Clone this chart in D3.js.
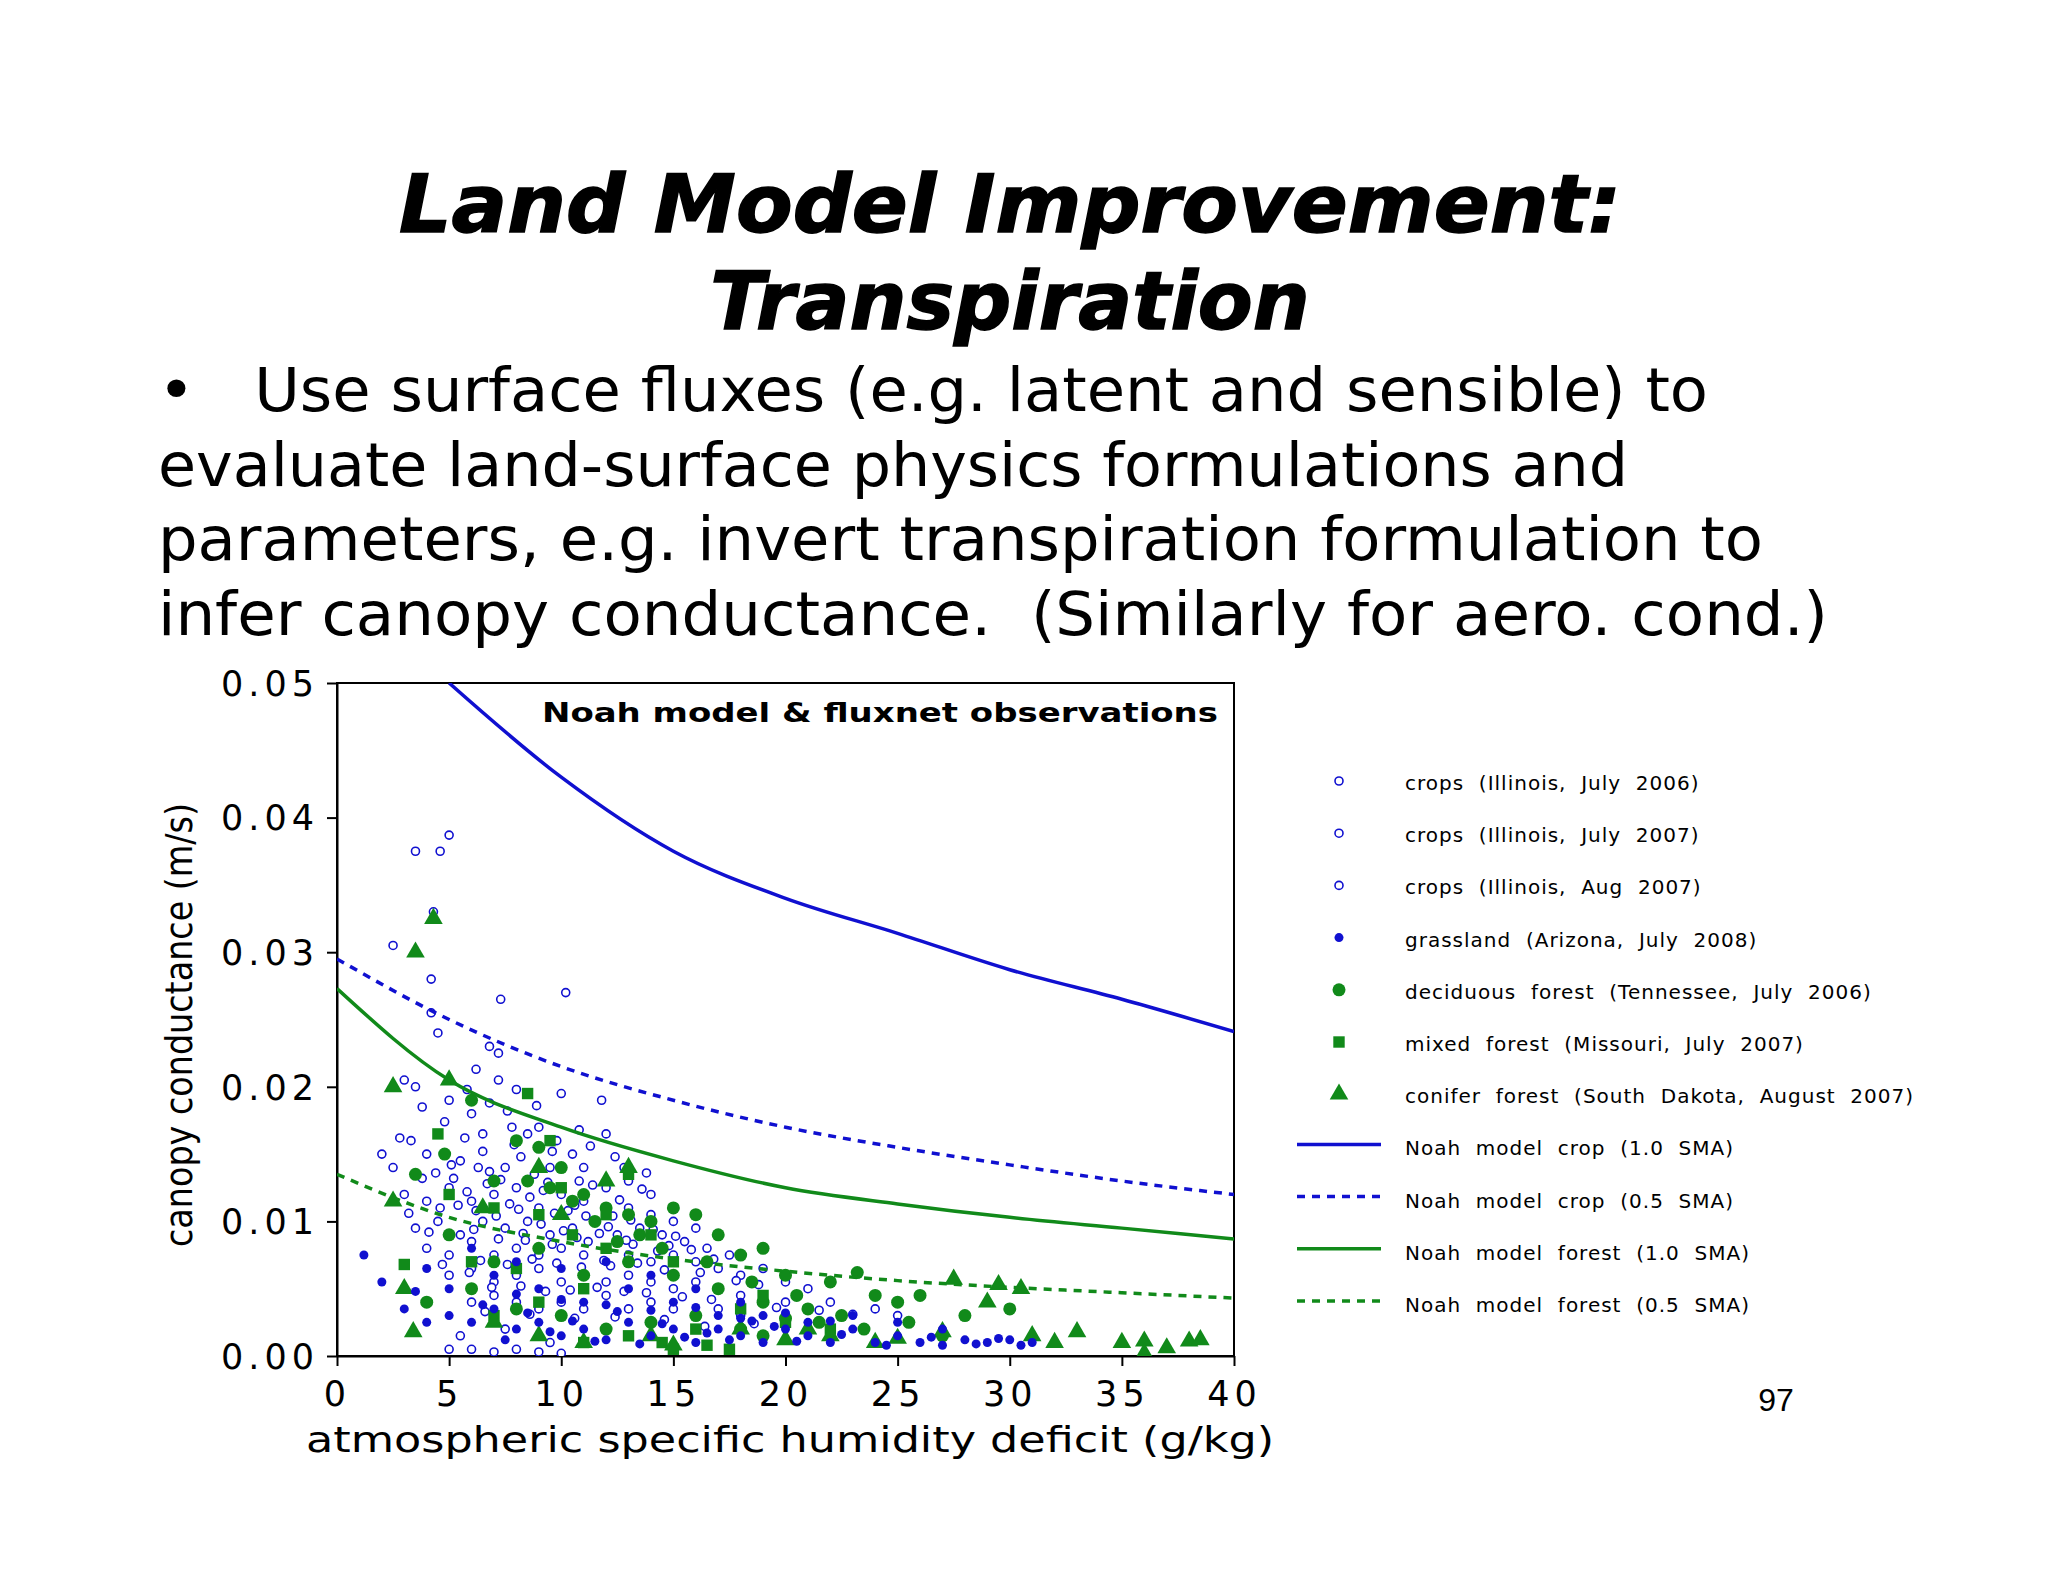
<!DOCTYPE html>
<html><head><meta charset="utf-8">
<script src="https://cdn.jsdelivr.net/npm/d3@7"></script>
<style>body{margin:0;background:#fff}</style></head>
<body><svg id="c" width="2048" height="1582"></svg>
<script>
const xTicks=[0,5,10,15,20,25,30,35,40];
const yTicks=[0,0.01,0.02,0.03,0.04,0.05];
const yTickLabels=["0.00","0.01","0.02","0.03","0.04","0.05"];
const curveX=[0,5,10,15,20,25,30,35,40];
const cropFull=[null,50,43,37.5,34,31.4,28.7,26.5,24.1];
const cropHalf=[29.5,25,21.5,19,17,15.5,14.2,13,12];
const forestFull=[27.3,20.5,17,14.5,12.5,11.3,10.3,9.5,8.7];
const forestHalf=[13.5,10.3,8.5,7.2,6.3,5.6,5.1,4.7,4.3];
const crops=[[3.5,37.5],[4.6,37.5],[5,38.7],[4.3,33],[2.5,30.5],[4.2,28],[10.2,27],[7.3,26.5],[4.2,25.5],[4.5,24],[6.8,23],[7.2,22.5],[3,20.5],[3.5,20],[7.2,20.5],[10,19.5],[11.8,19],[5,19],[6,18],[8,19.8],[9,17],[12,16.5],[2,15],[2.5,14],[3.3,16],[4,15],[5.5,14.5],[6.5,15.2],[7.5,14],[8.5,16.5],[9.5,14],[10.5,15],[11,14],[13,13],[14,12],[3,12],[4,11.5],[5,12.5],[6,11.5],[7,12],[8,12.5],[9,11],[10,12],[11,11.5],[12,12.5],[13,11],[14,10.5],[15,10],[16,9.5],[3.5,9.5],[4.5,10],[5.5,9],[6.5,10],[7.5,9.5],[8.5,10],[9.5,9],[10.5,9.5],[11.5,10],[12.5,9],[13.5,9.5],[14.5,9],[15.5,8.5],[16.5,8],[17.5,7.5],[4,8],[5,7.5],[6,8.5],[7,7.5],[8,8],[9,7.5],[10,8],[11,7.5],[12,8],[13,7.5],[14,7],[15,7.5],[16,7],[17,6.5],[18,6],[19,6.5],[20,5.5],[21,5],[5,6],[6,6.5],[7,5.5],[8,6],[9,6.5],[10,5.5],[11,6],[12,5.5],[13,6],[14,5.5],[15,5],[16,5.5],[17,5],[18,4.5],[19,4.5],[20,4],[22,4],[24,3.5],[25,3],[6,4],[7,4.5],[8,4],[9,3.5],[10,4],[11,3.5],[12,4.5],[13,3.5],[14,4],[15,3.5],[16,3],[17,3.5],[18,3],[20,3],[5,0.5],[6,0.5],[7,0.3],[8,0.5],[9,0.3],[10,0.2],[5.5,1.5],[7.5,2],[9.5,1],[6.5,16.5],[7.8,17],[9.8,16],[5.2,13.2],[8.8,13.5],[10.8,13],[12.8,14],[11.2,8.5],[9.2,12.3],[6.2,10.8],[7.7,11.3],[9.7,10.6],[11.7,9.1],[13.2,8.3],[8.3,9.1],[6.8,13.7],[10.3,10.8],[12.3,10.4],[14.8,8.2],[4.8,17.4],[6.2,21.3],[5.7,16.2],[8.2,14.8],[10.8,16.8],
[5.8,12.2],[6.7,12.8],[7.3,13.1],[8.6,11.8],[9.4,12.9],[10.6,11.2],[11.4,12.7],[12.6,11.6],[13.6,12.4],[7.1,10.4],[8.1,10.9],[9.1,9.8],[10.1,9.3],[11.1,10.4],[12.1,9.6],[13.1,10.1],[14.1,9.4],[15.1,8.9],[6.1,9.4],[7.2,8.7],[8.4,8.6],[9.6,8.3],[10.7,8.8],[11.9,7.1],[12.9,8.6],[14.3,7.8],[15.8,7.9],[16.8,7.2],[6.4,7.1],[7.6,6.8],[8.7,7.2],[9.8,6.9],[10.9,6.6],[12.2,6.7],[13.4,6.9],[14.6,6.4],[16.2,6.2],[17.8,5.6],[18.8,5.3],[6.9,5.1],[8.2,5.2],[9.3,4.8],[10.4,4.9],[11.6,5.1],[12.8,4.8],[13.8,4.7],[15.4,4.4],[16.7,4.2],[19.6,3.6],[21.5,3.4],[23,3.1],[6.6,3.3],[8.6,3.1],[10.6,2.8],[12.4,2.9],[14.6,2.7],[16.4,2.2],[18.6,2.4],[4.6,11],[3.8,13.2],[4.4,13.6],[5.4,11.2],[2.8,16.2],[3.8,18.5],[5.8,19.8],[6.8,18.8],[7.6,18.2],[8.9,18.6],[9.6,15.2],[11.3,15.6],[12.4,14.8],[13.8,13.6],[7.9,15.7],[5.1,14.2],[6.3,14],[4.1,9.2],[3.2,10.6],[5.9,6.2],[4.7,6.8]];
const grass=[[1.2,7.5],[2,5.5],[3,3.5],[4,2.5],[5,3],[6,2.5],[7,3.5],[8,2],[9,2.5],[10,1.5],[11,2],[12,1.2],[13,2.5],[14,1.5],[15,2],[16,1],[17,2],[18,1.5],[19,1],[20,2],[21,1.5],[22,1],[23,2],[24,1],[25,1.5],[26,1],[27,0.8],[28,1.2],[29,1],[30,1.2],[31,1],[5,5],[7,6],[9,5],[11,4],[13,5],[15,4],[17,3],[19,3],[21,2.5],[23,3],[6,8],[8,7],[10,6.5],[12,7],[14,6],[16,5],[18,4],[4,6.5],[3.5,4.8],[25,2.5],[27,2],[6.5,3.8],[8.5,3.2],[10.5,2.6],[12.5,3.3],[14.5,2.4],[16.5,1.7],[18.5,2.6],[20.5,1.1],[22.5,1.6],[7.5,1.2],[9.5,1.8],[11.5,1.1],[13.5,0.9],[15.5,1.4],[17.5,1.2],[19.5,2.2],[24.5,0.8],[26.5,1.4],[28.5,0.9],[29.5,1.3],[30.5,0.8],[8,4.6],[10,4.2],[12,3.8],[14,3.4],[16,3.6],[18,2.8],[20,3.2],[22,2.6]];
const decid=[[3.5,13.5],[4.8,15],[6,19],[7,13],[8,16],[9,15.5],[10,14],[11,12],[12,11],[13,10.5],[14,10],[15,11],[16,10.5],[17,9],[18,7.5],[19,8],[20,6],[22,5.5],[23.2,6.2],[24,4.5],[25,4],[26,4.5],[28,3],[30,3.5],[5,9],[7,7],[9,8],[11,6],[13,7],[15,6],[17,5],[19,4],[21,3.5],[16,3],[14,2.5],[12,2],[10,3],[8,3.5],[6,5],[4,4],[9.5,12.5],[10.5,11.5],[11.5,10],[8.5,13],[12.5,8.5],[13.5,9],[14.5,8],[16.5,7],[18.5,5.5],[20.5,4.5],[21.5,2.5],[22.5,3],[23.5,2],[25.5,2.5],[27,1.5],[18,2],[19,1.5],[20,2.8]];
const mixed=[[3,6.8],[4.5,16.5],[5,12],[8.5,19.5],[7,11],[9,10.5],[10.5,9],[12,8],[13,13.5],[14,9],[15,7],[11,5],[9,4],[17.5,0.5],[15,0.5],[13,1.5],[11,1],[16,2],[18,3.5],[20,2.5],[19,4.5],[7,3],[6,7],[22,2],[10,12.5],[12,10.5],[8,6.5],[14.5,1],[16.5,0.8],[9.5,16]];
const conifer=[[4.3,32.5],[3.5,30],[2.5,20],[5,20.5],[2.5,11.5],[3,5],[3.4,1.8],[6.5,11],[9,14],[13,14],[10,10.5],[12,13],[7,2.5],[9,1.5],[11,1],[14,1.5],[18,2],[20,1.2],[22,1.5],[24,1],[25,1.3],[27,1.8],[27.5,5.7],[29,4],[29.5,5.3],[30.5,5],[31,1.5],[32,1],[33,1.8],[35,1],[36,1.1],[37,0.6],[38,1.1],[38.5,1.2],[36,0.2],[21,2],[15,0.8]];
const legendLabels=["crops  (Illinois,  July  2006)","crops  (Illinois,  July  2007)","crops  (Illinois,  Aug  2007)","grassland  (Arizona,  July  2008)","deciduous  forest  (Tennessee,  July  2006)","mixed  forest  (Missouri,  July  2007)","conifer  forest  (South  Dakota,  August  2007)","Noah  model  crop  (1.0  SMA)","Noah  model  crop  (0.5  SMA)","Noah  model  forest  (1.0  SMA)","Noah  model  forest  (0.5  SMA)"];

const BLUE="#1010d0",GREEN="#118a1a";
const svg=d3.select("#c");
svg.append("text").attr("x",1010).attr("y",232).attr("text-anchor","middle").attr("font-family","DejaVu Sans").attr("font-weight","bold").attr("font-style","italic").attr("font-size",80).attr("textLength",1222).attr("lengthAdjust","spacingAndGlyphs").attr("stroke","#000").attr("stroke-width",1.5).text("Land Model Improvement:");
svg.append("text").attr("x",1010).attr("y",329).attr("text-anchor","middle").attr("font-family","DejaVu Sans").attr("font-weight","bold").attr("font-style","italic").attr("font-size",80).attr("stroke","#000").attr("stroke-width",1.5).text("Transpiration");
const bl=[["•   Use surface fluxes (e.g. latent and sensible) to",1550],["evaluate land-surface physics formulations and",1470],["parameters, e.g. invert transpiration formulation to",1605],["infer canopy conductance.  (Similarly for aero. cond.)",1670]];
bl.forEach((b,i)=>svg.append("text").attr("x",158).attr("y",411+i*74.5).attr("font-family","DejaVu Sans").attr("font-size",60).attr("textLength",b[1]).attr("lengthAdjust","spacingAndGlyphs").style("white-space","pre").text(b[0]));

const L=337,R=1234,T=683,B=1356;
const x=d3.scaleLinear().domain([0,40]).range([L,R]);
const y=d3.scaleLinear().domain([0,0.05]).range([B,T]);
const g=svg.append("g");
g.append("clipPath").attr("id","cl").append("rect").attr("x",L).attr("y",T).attr("width",R-L).attr("height",B-T);
const ax=g.append("g").attr("transform",`translate(0,${B})`).call(d3.axisBottom(x).tickValues(xTicks).tickSize(10).tickSizeOuter(0));
ax.selectAll("text").attr("font-family","DejaVu Sans").attr("font-size",35).attr("dy","1.05em").attr("letter-spacing",5);
const ay=g.append("g").attr("transform",`translate(${L},0)`).call(d3.axisLeft(y).tickValues(yTicks).tickFormat((d,i)=>yTickLabels[i]).tickSize(10).tickSizeOuter(0));
ay.selectAll("text").attr("font-family","DejaVu Sans").attr("font-size",35).attr("dy","0.35em").attr("letter-spacing",5).attr("x",-18);
g.selectAll(".domain,.tick line").attr("stroke","#000").attr("stroke-width",2);
g.append("rect").attr("x",L).attr("y",T).attr("width",R-L).attr("height",B-T).attr("fill","none").attr("stroke","#000").attr("stroke-width",2);
g.append("text").attr("x",1218).attr("y",722).attr("text-anchor","end").attr("font-family","DejaVu Sans").attr("font-weight","bold").attr("font-size",27).attr("textLength",676).attr("lengthAdjust","spacingAndGlyphs").text("Noah model & fluxnet observations");
g.append("text").attr("x",790).attr("y",1452).attr("text-anchor","middle").attr("font-family","DejaVu Sans").attr("font-size",36).attr("textLength",968).attr("lengthAdjust","spacingAndGlyphs").text("atmospheric specific humidity deficit (g/kg)");
g.append("text").attr("transform","translate(192,1025) rotate(-90)").attr("text-anchor","middle").attr("font-family","DejaVu Sans").attr("font-size",38).attr("textLength",444).attr("lengthAdjust","spacingAndGlyphs").text("canopy conductance (m/s)");

const pl=g.append("g").attr("clip-path","url(#cl)");
const line=d3.line().defined(d=>d[1]!=null).x(d=>x(d[0])).y(d=>y(d[1]/1000)).curve(d3.curveMonotoneX);
const sym=(t,s)=>d3.symbol().type(t).size(s)();
pl.selectAll(".cr").data(crops).join("circle").attr("cx",d=>x(d[0])).attr("cy",d=>y(d[1]/1000)).attr("r",4).attr("fill","#fff").attr("stroke",BLUE).attr("stroke-width",1.6);
pl.selectAll(".de").data(decid).join("circle").attr("cx",d=>x(d[0])).attr("cy",d=>y(d[1]/1000)).attr("r",6.5).attr("fill",GREEN);
pl.selectAll(".mx").data(mixed).join("path").attr("d",sym(d3.symbolSquare,130)).attr("transform",d=>`translate(${x(d[0])},${y(d[1]/1000)})`).attr("fill",GREEN);
pl.selectAll(".co").data(conifer).join("path").attr("d",sym(d3.symbolTriangle,150)).attr("transform",d=>`translate(${x(d[0])},${y(d[1]/1000)})`).attr("fill",GREEN);
pl.selectAll(".gr").data(grass).join("circle").attr("cx",d=>x(d[0])).attr("cy",d=>y(d[1]/1000)).attr("r",4.5).attr("fill",BLUE);
const curves=[[cropFull,BLUE,null],[cropHalf,BLUE,"8,7"],[forestFull,GREEN,null],[forestHalf,GREEN,"8,7"]];
curves.forEach(c=>pl.append("path").attr("d",line(curveX.map((v,i)=>[v,c[0][i]]))).attr("fill","none").attr("stroke",c[1]).attr("stroke-width",3.5).attr("stroke-dasharray",c[2]));

const lg=svg.append("g");
legendLabels.forEach((t,i)=>{
  const yy=785+i*52.2, mx=1339;
  if(i<3) lg.append("circle").attr("cx",mx).attr("cy",yy-4).attr("r",4).attr("fill","#fff").attr("stroke",BLUE).attr("stroke-width",1.6);
  else if(i==3) lg.append("circle").attr("cx",mx).attr("cy",yy-4).attr("r",4.5).attr("fill",BLUE);
  else if(i==4) lg.append("circle").attr("cx",mx).attr("cy",yy-4).attr("r",6.5).attr("fill",GREEN);
  else if(i==5) lg.append("path").attr("d",sym(d3.symbolSquare,130)).attr("transform",`translate(${mx},${yy-4})`).attr("fill",GREEN);
  else if(i==6) lg.append("path").attr("d",sym(d3.symbolTriangle,150)).attr("transform",`translate(${mx},${yy-4})`).attr("fill",GREEN);
  else { const c=curves[i-7]; lg.append("line").attr("x1",1297).attr("x2",1381).attr("y1",yy-6).attr("y2",yy-6).attr("stroke",c[1]).attr("stroke-width",3.5).attr("stroke-dasharray",c[2]); }
  lg.append("text").attr("x",1405).attr("y",yy+5).attr("font-family","DejaVu Sans").attr("font-size",20).attr("letter-spacing",1).style("white-space","pre").text(t);
});
svg.append("text").attr("x",1776).attr("y",1411).attr("text-anchor","middle").attr("font-family","Liberation Sans").attr("font-size",32).text("97");
</script></body></html>
